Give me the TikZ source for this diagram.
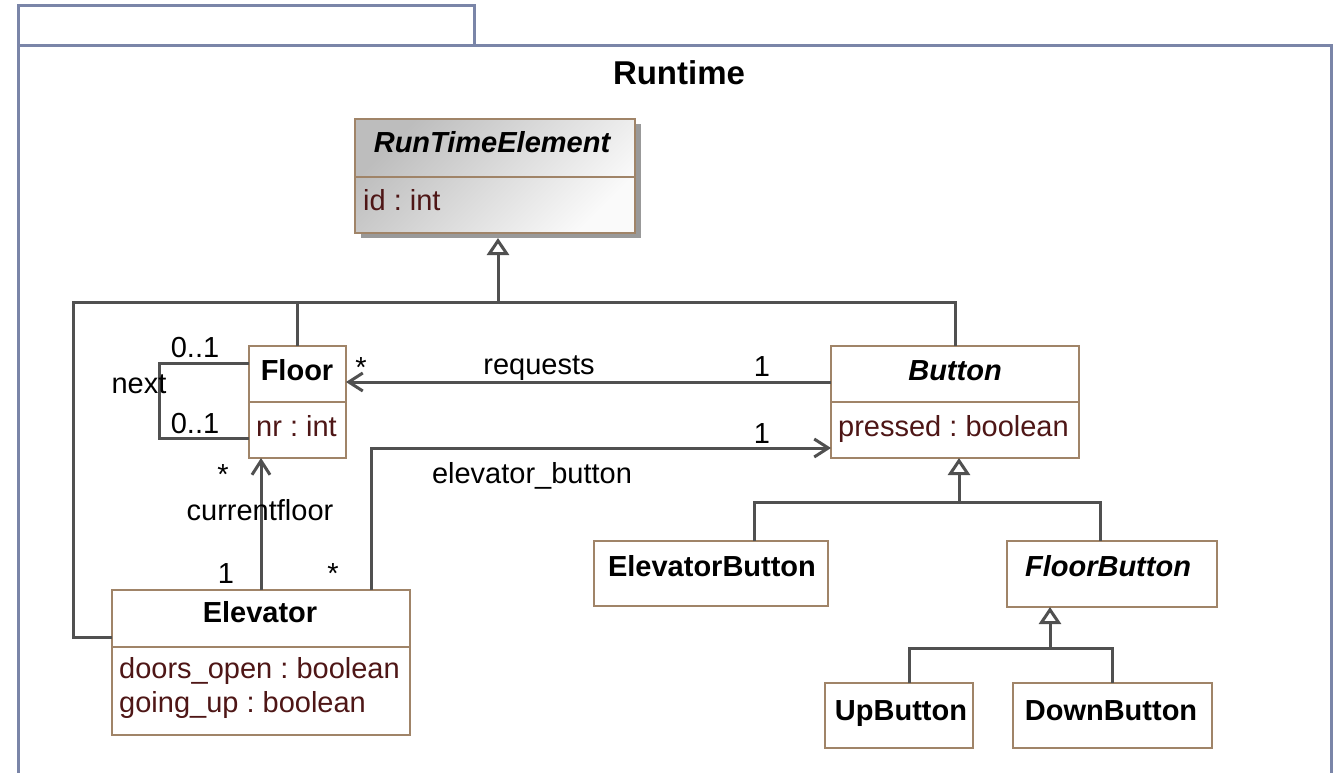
\documentclass[tikz,border=0pt]{standalone}
\usepackage{fontspec}
\setmainfont{Liberation Sans}
\usetikzlibrary{arrows.meta,calc,shadows}
\definecolor{framec}{HTML}{7A85A8}
\definecolor{boxc}{HTML}{A08468}
\definecolor{linec}{HTML}{505050}
\definecolor{attrc}{HTML}{4E1616}
\frenchspacing
\begin{document}
\begin{tikzpicture}[x=1pt,y=-1pt,
  frame/.style={draw=framec, line width=3pt},
  cls/.style={draw=boxc, line width=2.5pt, fill=white, inner sep=0pt, outer sep=0pt, rectangle},
  sepline/.style={draw=boxc, line width=2.5pt},
  conn/.style={draw=linec, line width=3pt, line join=miter},
  gen/.style={conn, -{Triangle[open, length=17pt, width=22pt]}},
  nav/.style={conn, -{Straight Barb[length=14pt, width=18pt]}},
  txt/.style={font=\fontsize{29}{34}\selectfont, inner sep=0pt, anchor=base},
  ttl/.style={txt, font=\fontsize{29}{34}\selectfont\bfseries},
  ittl/.style={txt, font=\fontsize{29}{34}\selectfont\bfseries\itshape},
  attr/.style={txt, anchor=base west, text=attrc},
  lbl/.style={txt},
  pkg/.style={txt, font=\fontsize{33}{38}\selectfont\bfseries}
]
\useasboundingbox (0,0) rectangle (1338,773);
% package frame
\draw[frame] (18,6) rectangle (474,46);
\draw[frame] (18,790) -- (18,46) -- (1331,46) -- (1331,790);
\node[pkg] (runtimeT) at (679,85) {Runtime};

% classes
\node[cls, drop shadow={shadow xshift=6pt, shadow yshift=-5pt, fill=black!40, opacity=1},
      top color=black!26, bottom color=black!2, shading angle=45,
      minimum width=280pt, minimum height=114pt] (rte) at (495,176) {};
\draw[sepline] ([yshift=-1pt]rte.west) -- ([yshift=-1pt]rte.east);
\node[ittl] (rteT) at (492,153) {RunTimeElement};
\node[attr] (rteA) at (363,210) {id : int};

\node[cls, minimum width=97pt, minimum height=112pt] (floor) at (297.5,402) {};
\draw[sepline] (floor.west) -- (floor.east);
\node[ttl] (floorT) at (297,380) {Floor};
\node[attr] (floorA) at (256,436) {nr : int};

\node[cls, minimum width=248pt, minimum height=112pt] (button) at (955,402) {};
\draw[sepline] (button.west) -- (button.east);
\node[ittl] (buttonT) at (955,380) {Button};
\node[attr] (buttonA) at (838,436) {pressed : boolean};

\node[cls, minimum width=234pt, minimum height=65pt] (ebtn) at (711,573.5) {};
\node[ttl] (ebtnT) at (712,576) {ElevatorButton};

\node[cls, minimum width=210pt, minimum height=66pt] (fbtn) at (1112,574) {};
\node[ittl] (fbtnT) at (1108,576) {FloorButton};

\node[cls, minimum width=148pt, minimum height=65pt] (ubtn) at (899,715.5) {};
\node[ttl] (ubtnT) at (901,720) {UpButton};

\node[cls, minimum width=199pt, minimum height=65pt] (dbtn) at (1112.5,715.5) {};
\node[ttl] (dbtnT) at (1111,720) {DownButton};

\node[cls, minimum width=298pt, minimum height=145pt] (elev) at (261,662.5) {};
\draw[sepline] ([yshift=15.5pt]elev.west) -- ([yshift=15.5pt]elev.east);
\node[ttl] (elevT) at (260,622) {Elevator};
\node[attr] (elevA1) at (119,678) {doors\_open : boolean};
\node[attr] (elevA2) at (119,712) {going\_up : boolean};

% generalization to RunTimeElement
\coordinate (g1) at (498,302);
\coordinate (gl) at (73,302);
\coordinate (rteb) at ([yshift=-5pt]rte.south);
\draw[gen] (g1) -- (g1 |- rteb);
\draw[conn] ([yshift=25.5pt]elev.west) -| (gl) -- (button.north |- gl) -- (button.north);
\draw[conn] (floor.north) -- (floor.north |- gl);

% next self association
\coordinate (nl) at (159,400);
\draw[conn] ([yshift=39pt]floor.west) -| (nl) |- ([yshift=-36pt]floor.west);
\node[lbl] (n01a) at (195,357) {0..1};
\node[lbl] (n01b) at (195,433) {0..1};
\node[lbl] (nextL) at (139,393) {next};

% requests
\draw[nav] ([yshift=20pt]button.west) -- ([yshift=20pt]floor.east);
\node[lbl] (reqS) at (361,377) {*};
\node[lbl] (reqL) at (539,374) {requests};
\node[lbl] (req1) at (762,376) {1};

% elevator_button
\draw[nav] ([xshift=110pt]elev.north) |- ([yshift=-46pt]button.west);
\node[lbl] (eb1) at (762,443) {1};
\node[lbl] (ebL) at (532,483) {elevator\_button};
\node[lbl] (ebS) at (333,583) {*};

% currentfloor
\draw[nav] (elev.north) -- (elev.north |- floor.south);
\node[lbl] (cfS) at (223,484) {*};
\node[lbl] (cfL) at (260,520) {currentfloor};
\node[lbl] (cf1) at (226,583) {1};

% generalization to Button
\coordinate (g2) at (959,502);
\draw[gen] (g2) -- (g2 |- button.south);
\coordinate (ebt) at ([xshift=43pt]ebtn.north);
\coordinate (fbt) at ([xshift=-12pt]fbtn.north);
\draw[conn] (ebt) |- (fbt |- g2) -- (fbt);

% generalization to FloorButton
\coordinate (g3) at (1050,648);
\draw[gen] (g3) -- (g3 |- fbtn.south);
\coordinate (ubt) at ([xshift=10pt]ubtn.north);
\draw[conn] (ubt) |- (dbtn.north |- g3) -- (dbtn.north);
\end{tikzpicture}
\end{document}
